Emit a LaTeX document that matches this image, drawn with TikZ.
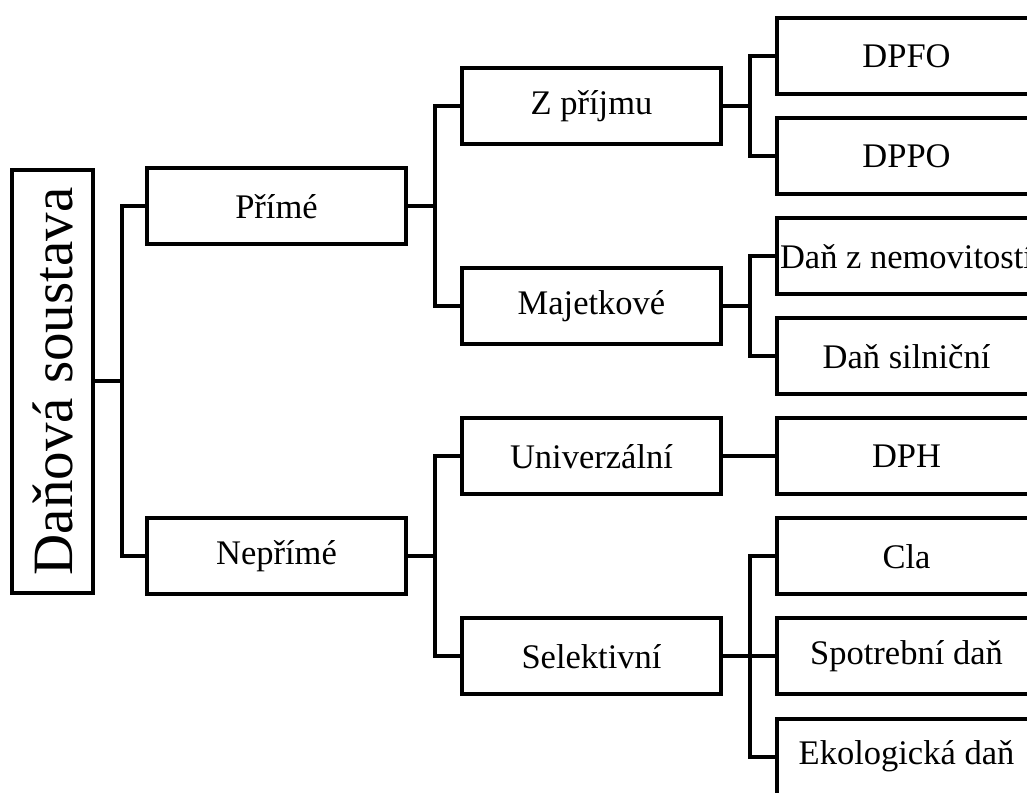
\documentclass[tikz,border=0pt]{standalone}
\usepackage{fontspec}
\setmainfont{Liberation Serif}
\usetikzlibrary{positioning}

\newcommand{\boxfont}{\fontsize{34.5}{40}\selectfont}
\newcommand{\rootfont}{\fontsize{57}{64}\selectfont}

\tikzset{
  taxbox/.style={draw, line width=4pt, minimum width=259pt, minimum height=76pt,
    inner sep=0pt, font=\boxfont},
  rootbox/.style={draw, line width=4pt, minimum width=81pt, minimum height=423pt,
    inner sep=0pt, font=\rootfont},
  branch/.style={to path={(\tikztostart.east) -- ++(27pt,0) |- (\tikztotarget.west)}}
}

\begin{document}
\begin{tikzpicture}[on grid, line width=4pt]

      \useasboundingbox (0,0) rectangle (1027pt,792pt);

      % Nodes for the tax system
      \node[rootbox] (soustava) at (52.5pt,410.5pt) {\rotatebox{90}{Daňová soustava}};
      \node[taxbox] (prime) [above right=175pt and 224pt of soustava] {Přímé};
      \node[taxbox] (neprime) [below right=175pt and 224pt of soustava] {Nepřímé};

      \node[taxbox] (prijem) [above right=100pt and 315pt of prime] {Z příjmu};
      \node[taxbox] (majetek) [below right=100pt and 315pt of prime] {Majetkové};
      \node[taxbox] (univ) [above right=100pt and 315pt of neprime] {Univerzální};
      \node[taxbox] (selekt) [below right=100pt and 315pt of neprime] {Selektivní};

      \node[taxbox] (dpfo) [above right=50pt and 315pt of prijem] {DPFO};
      \node[taxbox] (dppo) [below right=50pt and 315pt of prijem] {DPPO};
      \node[taxbox] (nemovit) [above right=50pt and 315pt of majetek] {Daň z nemovitostí};
      \node[taxbox] (silnice) [below right=50pt and 315pt of majetek] {Daň silniční};
      \node[taxbox] (dph) [right=315pt of univ] {DPH};
      \node[taxbox] (cla) [above right=100pt and 315pt of selekt] {Cla};
      \node[taxbox] (spotreba) [right=315pt of selekt] {Spotrební daň};
      \node[taxbox] (ekolog) [below right=100pt and 315pt of selekt] {Ekologická daň};

      % Edges for the tax system
      \path[draw]
        (soustava) edge[branch] (prime)
        (soustava) edge[branch] (neprime)
        (prime) edge[branch] (prijem)
        (prime) edge[branch] (majetek)
        (neprime) edge[branch] (univ)
        (neprime) edge[branch] (selekt)
        (prijem) edge[branch] (dpfo)
        (prijem) edge[branch] (dppo)
        (majetek) edge[branch] (nemovit)
        (majetek) edge[branch] (silnice)
        (univ) edge[branch] (dph)
        (selekt) edge[branch] (cla)
        (selekt) edge[branch] (spotreba)
        (selekt) edge[branch] (ekolog);

\end{tikzpicture}
\end{document}
